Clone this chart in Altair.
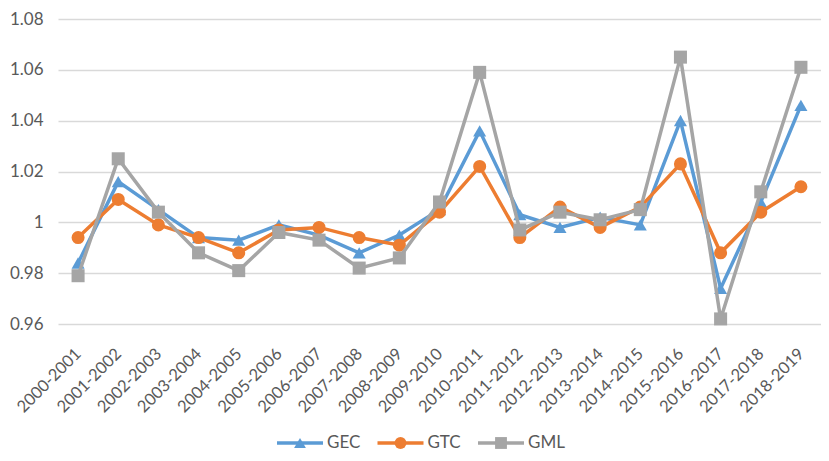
import altair as alt
import pandas as pd

periods = ["2000-2001", "2001-2002", "2002-2003", "2003-2004", "2004-2005",
           "2005-2006", "2006-2007", "2007-2008", "2008-2009", "2009-2010",
           "2010-2011", "2011-2012", "2012-2013", "2013-2014", "2014-2015",
           "2015-2016", "2016-2017", "2017-2018", "2018-2019"]
gec = [0.984, 1.016, 1.005, 0.994, 0.993, 0.999, 0.995, 0.988, 0.995, 1.005,
       1.036, 1.003, 0.998, 1.002, 0.999, 1.040, 0.974, 1.008, 1.046]
gtc = [0.994, 1.009, 0.999, 0.994, 0.988, 0.997, 0.998, 0.994, 0.991, 1.004,
       1.022, 0.994, 1.006, 0.998, 1.006, 1.023, 0.988, 1.004, 1.014]
gml = [0.979, 1.025, 1.004, 0.988, 0.981, 0.996, 0.993, 0.982, 0.986, 1.008,
       1.059, 0.997, 1.004, 1.001, 1.005, 1.065, 0.962, 1.012, 1.061]
series = ["GEC", "GTC", "GML"]
colors = ["#5B9BD5", "#ED7D31", "#A5A5A5"]
shapes = ["triangle-up", "circle", "square"]
y_ticks = [0.96, 0.98, 1.0, 1.02, 1.04, 1.06, 1.08]

n = len(periods)
long = pd.DataFrame({
    "period": periods * 3,
    "series": ["GEC"] * n + ["GTC"] * n + ["GML"] * n,
    "value": gec + gtc + gml,
})
leg = pd.DataFrame({"series": series, "idx": [0, 1, 2]})

FONT = "Lato"
TXT = "#595959"

X = alt.X("period:N", sort=periods, title=None,
          scale=alt.Scale(type="point", padding=0.5),
          axis=alt.Axis(labelAngle=315, labelAlign="right", labelBaseline="middle",
                        labelPadding=27, ticks=False, domain=False, grid=False,
                        labelFont=FONT, labelFontSize=16.5, labelColor=TXT,
                        labelOverlap=False))
Y = alt.Y("value:Q", title=None,
          scale=alt.Scale(domain=[0.96, 1.08], nice=False, zero=False),
          axis=alt.Axis(values=y_ticks, format="~f", domain=False, ticks=False,
                        grid=True, gridColor="#D9D9D9", gridWidth=1.3,
                        labelPadding=15, labelFont=FONT, labelFontSize=17,
                        labelColor=TXT))
C = alt.Color("series:N", scale=alt.Scale(domain=series, range=colors), legend=None)
S = alt.Shape("series:N", scale=alt.Scale(domain=series, range=shapes), legend=None)

layers = []
for s in series:
    base = alt.Chart(long).transform_filter(alt.datum.series == s)
    layers.append(base.mark_line(strokeWidth=3.5).encode(x=X, y=Y, color=C))
    layers.append(base.mark_point(filled=True, size=170, opacity=1)
                  .encode(x=X, y=Y, color=C, shape=S))
main = alt.layer(*layers)

LY = 424
LX = alt.X("idx:Q", scale=alt.Scale(domain=[0, 2], range=[242, 443]), axis=None)
legbase = alt.Chart(leg)
leg_rule = legbase.mark_rule(strokeWidth=3.5, xOffset=-23, x2Offset=23).encode(
    x=LX, x2=alt.X2("idx:Q"), y=alt.value(LY), color=C)
leg_pt = legbase.mark_point(filled=True, size=140, opacity=1).encode(
    x=LX, y=alt.value(LY), color=C, shape=S)
leg_txt = legbase.mark_text(align="left", baseline="middle", dx=27, font=FONT,
                            fontSize=17, color=TXT).encode(
    x=LX, y=alt.value(LY), text="series:N")
legend = alt.layer(leg_rule, leg_pt, leg_txt)

chart = alt.layer(main, legend).resolve_scale(
    x="independent"
).properties(
    width=763, height=305,
    padding={"left": 50, "top": 11, "right": 0, "bottom": 129},
    autosize=alt.AutoSizeParams(type="none"),
    background="white",
).configure_view(stroke=None)

chart.save("out.html", embed_options={"renderer": "svg", "actions": False})
